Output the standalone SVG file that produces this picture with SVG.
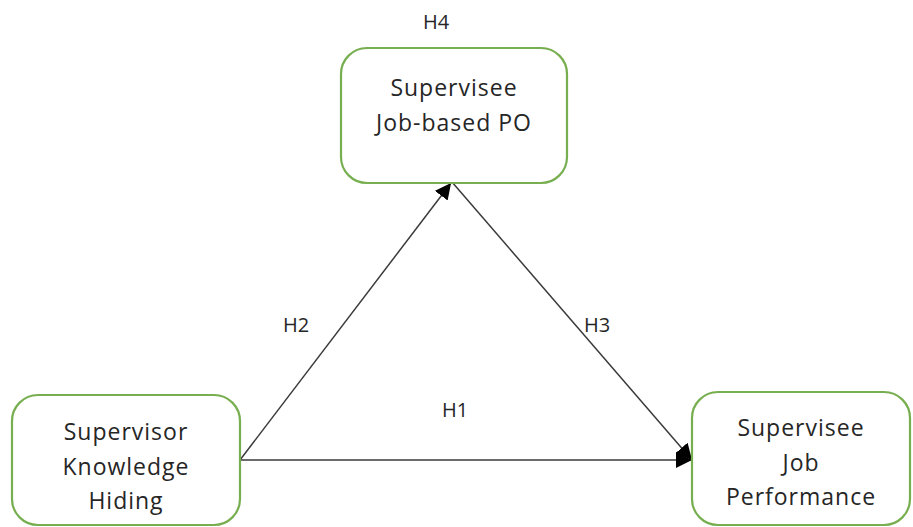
<svg xmlns="http://www.w3.org/2000/svg" width="913" height="527" viewBox="0 0 913 527">
<style>
.box{fill:#fff;stroke:#77AE4F;stroke-width:2.2}
.t{font-family:"Open Sans","Liberation Sans",sans-serif;font-size:23px;fill:#262626;text-anchor:middle;letter-spacing:1px}
.h{font-family:"Open Sans","Liberation Sans",sans-serif;font-size:20px;fill:#262626;text-anchor:middle}
.c{stroke:#3a3a3a;stroke-width:1.5;fill:none}
</style>
<defs>
<marker id="ahb" viewBox="0 0 10 10" refX="10" refY="5" markerWidth="16" markerHeight="16" markerUnits="userSpaceOnUse" orient="auto">
<path d="M0,0 L10,5 L0,10 z" fill="#000"/>
</marker>
</defs>
<g id="connectors">
<line class="c" x1="240" y1="460" x2="451" y2="183" marker-end="url(#ahb)"/>
<line class="c" x1="452" y1="182" x2="692" y2="460" marker-end="url(#ahb)"/>
<line class="c" x1="240" y1="460" x2="692" y2="460" marker-end="url(#ahb)"/>
</g>
<g id="labels">
<text class="h" x="436" y="29">H4</text>
<text class="h" x="296" y="332">H2</text>
<text class="h" x="597" y="332">H3</text>
<text class="h" x="455" y="417">H1</text>
</g>
<g id="node-po">
<rect class="box" x="341" y="48" width="226" height="135" rx="26"/>
<text class="t" x="454" y="96">Supervisee</text>
<text class="t" x="454" y="131">Job-based PO</text>
</g>
<g id="node-kh">
<rect class="box" x="12" y="395" width="228" height="130" rx="26"/>
<text class="t" x="126" y="440">Supervisor</text>
<text class="t" x="126" y="475">Knowledge</text>
<text class="t" x="126" y="509">Hiding</text>
</g>
<g id="node-jp">
<rect class="box" x="692" y="392" width="218" height="133" rx="26"/>
<text class="t" x="801" y="436">Supervisee</text>
<text class="t" x="801" y="471">Job</text>
<text class="t" x="801" y="505">Performance</text>
</g>
</svg>
